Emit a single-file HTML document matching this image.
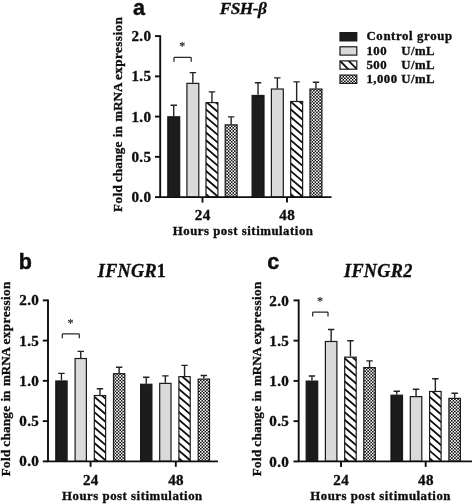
<!DOCTYPE html>
<html><head><meta charset="utf-8"><title>Figure</title>
<style>
html,body{margin:0;padding:0;background:#fff;}
body{width:472px;height:504px;overflow:hidden;}
svg{display:block;will-change:transform;}
text{font-family:"Liberation Serif",serif;font-weight:bold;fill:#111;stroke:#111;stroke-width:0.35px;}
.tk{font-size:14.5px;letter-spacing:0.3px;}
.lb{font-size:12.8px;letter-spacing:0.52px;}
.yl{font-size:13.1px;}
.lg{font-size:12.8px;letter-spacing:0.62px;}
.lg2{font-size:12.8px;letter-spacing:0.45px;}
.tt{font-size:17.3px;}
.as{font-size:13px;font-weight:normal;fill:#222;stroke:#222;stroke-width:0.2px;}
.pn{font-family:"Liberation Sans",sans-serif;font-size:21.5px;stroke:#111;stroke-width:0.45px;}
</style></head><body>
<svg width="472" height="504" viewBox="0 0 472 504">
<defs>
<filter id="soft" x="0" y="0" width="472" height="504" filterUnits="userSpaceOnUse"><feGaussianBlur stdDeviation="0.28"/></filter>
<pattern id="hatch" patternUnits="userSpaceOnUse" width="5.8" height="5.8" patternTransform="rotate(40)">
<rect width="5.8" height="5.8" fill="#fff"/><rect width="5.8" height="1.7" fill="#1a1a1a"/>
</pattern>
<pattern id="check" patternUnits="userSpaceOnUse" width="3.1" height="3.1">
<rect width="3.1" height="3.1" fill="#fff"/><rect width="1.55" height="1.55" fill="#111"/><rect x="1.55" y="1.55" width="1.55" height="1.55" fill="#111"/>
</pattern>
</defs>
<rect width="472" height="504" fill="#fff"/>
<g filter="url(#soft)">
<path d="M173.75 116.2V105.23M170.55 105.23H176.95" stroke="#222" stroke-width="1.4" fill="none"/>
<rect x="167.8" y="116.8" width="11.9" height="80.3" fill="#1a1a1a" stroke="#1a1a1a" stroke-width="1.2"/>
<path d="M192.85 82.79V72.62M189.65 72.62H196.05" stroke="#222" stroke-width="1.4" fill="none"/>
<rect x="186.9" y="83.39" width="11.9" height="113.71" fill="#dadada" stroke="#1a1a1a" stroke-width="1.2"/>
<path d="M211.95 102.03V91.86M208.75 91.86H215.15" stroke="#222" stroke-width="1.4" fill="none"/>
<clipPath id="c5"><rect x="206" y="102.63" width="11.9" height="94.47"/></clipPath>
<rect x="206" y="102.63" width="11.9" height="94.47" fill="#fff"/>
<path d="M205 193.24L218.9 205.19M205 185.54L218.9 197.49M205 177.84L218.9 189.79M205 170.14L218.9 182.09M205 162.44L218.9 174.39M205 154.74L218.9 166.69M205 147.04L218.9 158.99M205 139.34L218.9 151.29M205 131.64L218.9 143.59M205 123.94L218.9 135.89M205 116.24L218.9 128.19M205 108.54L218.9 120.49M205 100.84L218.9 112.79M205 93.14L218.9 105.09" stroke="#111" stroke-width="1.8" fill="none" clip-path="url(#c5)"/>
<rect x="206" y="102.63" width="11.9" height="94.47" fill="none" stroke="#1a1a1a" stroke-width="1.2"/>
<path d="M231.15 124.25V116.9M227.95 116.9H234.35" stroke="#222" stroke-width="1.4" fill="none"/>
<rect x="225.2" y="124.85" width="11.9" height="72.25" fill="url(#check)" stroke="#1a1a1a" stroke-width="1.2"/>
<path d="M258.05 94.86V82.69M254.85 82.69H261.25" stroke="#222" stroke-width="1.4" fill="none"/>
<rect x="252.1" y="95.46" width="11.9" height="101.64" fill="#1a1a1a" stroke="#1a1a1a" stroke-width="1.2"/>
<path d="M277.35 88.42V77.86M274.15 77.86H280.55" stroke="#222" stroke-width="1.4" fill="none"/>
<rect x="271.4" y="89.02" width="11.9" height="108.08" fill="#dadada" stroke="#1a1a1a" stroke-width="1.2"/>
<path d="M296.65 100.9V81.88M293.45 81.88H299.85" stroke="#222" stroke-width="1.4" fill="none"/>
<clipPath id="c16"><rect x="290.7" y="101.5" width="11.9" height="95.6"/></clipPath>
<rect x="290.7" y="101.5" width="11.9" height="95.6" fill="#fff"/>
<path d="M289.7 193.24L303.6 205.19M289.7 185.54L303.6 197.49M289.7 177.84L303.6 189.79M289.7 170.14L303.6 182.09M289.7 162.44L303.6 174.39M289.7 154.74L303.6 166.69M289.7 147.04L303.6 158.99M289.7 139.34L303.6 151.29M289.7 131.64L303.6 143.59M289.7 123.94L303.6 135.89M289.7 116.24L303.6 128.19M289.7 108.54L303.6 120.49M289.7 100.84L303.6 112.79M289.7 93.14L303.6 105.09" stroke="#111" stroke-width="1.8" fill="none" clip-path="url(#c16)"/>
<rect x="290.7" y="101.5" width="11.9" height="95.6" fill="none" stroke="#1a1a1a" stroke-width="1.2"/>
<path d="M315.95 88.42V82.28M312.75 82.28H319.15" stroke="#222" stroke-width="1.4" fill="none"/>
<rect x="310" y="89.02" width="11.9" height="108.08" fill="url(#check)" stroke="#1a1a1a" stroke-width="1.2"/>
<path d="M160.2 35.15V197.1H331.5" stroke="#111" stroke-width="1.9" fill="none"/>
<path d="M155 197.1H160.2" stroke="#111" stroke-width="1.9"/>
<text transform="translate(151.3 202.2) scale(1.04 1)" text-anchor="end" class="tk">0.0</text>
<path d="M155 156.85H160.2" stroke="#111" stroke-width="1.9"/>
<text transform="translate(151.3 161.95) scale(1.04 1)" text-anchor="end" class="tk">0.5</text>
<path d="M155 116.6H160.2" stroke="#111" stroke-width="1.9"/>
<text transform="translate(151.3 121.7) scale(1.04 1)" text-anchor="end" class="tk">1.0</text>
<path d="M155 76.35H160.2" stroke="#111" stroke-width="1.9"/>
<text transform="translate(151.3 81.45) scale(1.04 1)" text-anchor="end" class="tk">1.5</text>
<path d="M155 36.1H160.2" stroke="#111" stroke-width="1.9"/>
<text transform="translate(151.3 41.2) scale(1.04 1)" text-anchor="end" class="tk">2.0</text>
<path d="M202.5 197.1V202.6" stroke="#111" stroke-width="1.9"/>
<text transform="translate(202.7 220.3) scale(1.04 1)" text-anchor="middle" class="tk">24</text>
<path d="M287 197.1V202.6" stroke="#111" stroke-width="1.9"/>
<text transform="translate(287.2 220.3) scale(1.04 1)" text-anchor="middle" class="tk">48</text>
<text transform="translate(243.1 234.9) scale(1 1)" text-anchor="middle" class="lb">Hours post sitimulation</text>
<text transform="translate(122 211.9) rotate(-90)" class="yl" textLength="26.6" lengthAdjust="spacing">Fold</text>
<text transform="translate(122 182.3) rotate(-90)" class="yl" textLength="40.7" lengthAdjust="spacing">change</text>
<text transform="translate(122 137.2) rotate(-90)" class="yl" textLength="10.9" lengthAdjust="spacing">in</text>
<text transform="translate(122 121.7) rotate(-90)" class="yl" textLength="39.2" lengthAdjust="spacing">mRNA</text>
<text transform="translate(122 80) rotate(-90)" class="yl" textLength="62.8" lengthAdjust="spacing">expression</text>
<text transform="translate(243 14.1) scale(1 1)" text-anchor="middle" class="tt" style="letter-spacing:-0.5px;font-size:17.3px"><tspan font-style="italic">FSH-β</tspan></text>
<text transform="translate(133 15.2) scale(1 1)" text-anchor="start" class="pn">a</text>
<path d="M174 61.8V58.2Q174 57.4 174.8 57.4H190.4Q191.2 57.4 191.2 58.2V61.8" stroke="#2a2a2a" stroke-width="1.25" fill="none"/>
<text transform="translate(182.3 50.3) scale(0.92 1)" text-anchor="middle" class="as">*</text>
<path d="M61.45 380.37V373.42M58.25 373.42H64.65" stroke="#222" stroke-width="1.4" fill="none"/>
<rect x="55.8" y="380.97" width="11.3" height="80.38" fill="#1a1a1a" stroke="#1a1a1a" stroke-width="1.2"/>
<path d="M80.75 357.91V351.37M77.55 351.37H83.95" stroke="#222" stroke-width="1.4" fill="none"/>
<rect x="75.1" y="358.51" width="11.3" height="102.84" fill="#dadada" stroke="#1a1a1a" stroke-width="1.2"/>
<path d="M99.95 394.94V388.8M96.75 388.8H103.15" stroke="#222" stroke-width="1.4" fill="none"/>
<clipPath id="c52"><rect x="94.3" y="395.54" width="11.3" height="65.81"/></clipPath>
<rect x="94.3" y="395.54" width="11.3" height="65.81" fill="#fff"/>
<path d="M93.3 457.49L106.6 468.93M93.3 449.79L106.6 461.23M93.3 442.09L106.6 453.53M93.3 434.39L106.6 445.83M93.3 426.69L106.6 438.13M93.3 418.99L106.6 430.43M93.3 411.29L106.6 422.73M93.3 403.59L106.6 415.03M93.3 395.89L106.6 407.33M93.3 388.19L106.6 399.63" stroke="#111" stroke-width="1.8" fill="none" clip-path="url(#c52)"/>
<rect x="94.3" y="395.54" width="11.3" height="65.81" fill="none" stroke="#1a1a1a" stroke-width="1.2"/>
<path d="M119.15 373.12V367.18M115.95 367.18H122.35" stroke="#222" stroke-width="1.4" fill="none"/>
<rect x="113.5" y="373.72" width="11.3" height="87.63" fill="url(#check)" stroke="#1a1a1a" stroke-width="1.2"/>
<path d="M146.25 383.67V377.21M143.05 377.21H149.45" stroke="#222" stroke-width="1.4" fill="none"/>
<rect x="140.6" y="384.27" width="11.3" height="77.08" fill="#1a1a1a" stroke="#1a1a1a" stroke-width="1.2"/>
<path d="M165.35 382.78V375.84M162.15 375.84H168.55" stroke="#222" stroke-width="1.4" fill="none"/>
<rect x="159.7" y="383.38" width="11.3" height="77.97" fill="#dadada" stroke="#1a1a1a" stroke-width="1.2"/>
<path d="M184.55 376.02V365.37M181.35 365.37H187.75" stroke="#222" stroke-width="1.4" fill="none"/>
<clipPath id="c63"><rect x="178.9" y="376.62" width="11.3" height="84.73"/></clipPath>
<rect x="178.9" y="376.62" width="11.3" height="84.73" fill="#fff"/>
<path d="M177.9 457.49L191.2 468.93M177.9 449.79L191.2 461.23M177.9 442.09L191.2 453.53M177.9 434.39L191.2 445.83M177.9 426.69L191.2 438.13M177.9 418.99L191.2 430.43M177.9 411.29L191.2 422.73M177.9 403.59L191.2 415.03M177.9 395.89L191.2 407.33M177.9 388.19L191.2 399.63M177.9 380.49L191.2 391.93M177.9 372.79L191.2 384.23M177.9 365.09L191.2 376.53" stroke="#111" stroke-width="1.8" fill="none" clip-path="url(#c63)"/>
<rect x="178.9" y="376.62" width="11.3" height="84.73" fill="none" stroke="#1a1a1a" stroke-width="1.2"/>
<path d="M203.85 378.52V375.52M200.65 375.52H207.05" stroke="#222" stroke-width="1.4" fill="none"/>
<rect x="198.2" y="379.12" width="11.3" height="82.23" fill="url(#check)" stroke="#1a1a1a" stroke-width="1.2"/>
<path d="M48 299.4V461.35H218" stroke="#111" stroke-width="1.9" fill="none"/>
<path d="M42.8 461.35H48" stroke="#111" stroke-width="1.9"/>
<text transform="translate(39.1 466.45) scale(1.04 1)" text-anchor="end" class="tk">0.0</text>
<path d="M42.8 421.1H48" stroke="#111" stroke-width="1.9"/>
<text transform="translate(39.1 426.2) scale(1.04 1)" text-anchor="end" class="tk">0.5</text>
<path d="M42.8 380.85H48" stroke="#111" stroke-width="1.9"/>
<text transform="translate(39.1 385.95) scale(1.04 1)" text-anchor="end" class="tk">1.0</text>
<path d="M42.8 340.6H48" stroke="#111" stroke-width="1.9"/>
<text transform="translate(39.1 345.7) scale(1.04 1)" text-anchor="end" class="tk">1.5</text>
<path d="M42.8 300.35H48" stroke="#111" stroke-width="1.9"/>
<text transform="translate(39.1 305.45) scale(1.04 1)" text-anchor="end" class="tk">2.0</text>
<path d="M90.6 461.35V466.85" stroke="#111" stroke-width="1.9"/>
<text transform="translate(90.8 484.55) scale(1.04 1)" text-anchor="middle" class="tk">24</text>
<path d="M175.8 461.35V466.85" stroke="#111" stroke-width="1.9"/>
<text transform="translate(176 484.55) scale(1.04 1)" text-anchor="middle" class="tk">48</text>
<text transform="translate(132.4 500.05) scale(1 1)" text-anchor="middle" class="lb">Hours post sitimulation</text>
<text transform="translate(10.2 476.3) rotate(-90)" class="yl" textLength="26.6" lengthAdjust="spacing">Fold</text>
<text transform="translate(10.2 446.7) rotate(-90)" class="yl" textLength="40.7" lengthAdjust="spacing">change</text>
<text transform="translate(10.2 401.6) rotate(-90)" class="yl" textLength="10.9" lengthAdjust="spacing">in</text>
<text transform="translate(10.2 386.1) rotate(-90)" class="yl" textLength="39.2" lengthAdjust="spacing">mRNA</text>
<text transform="translate(10.2 344.4) rotate(-90)" class="yl" textLength="62.8" lengthAdjust="spacing">expression</text>
<text transform="translate(132 276.5) scale(1 1)" text-anchor="middle" class="tt" style="letter-spacing:0.3px;font-size:18.2px"><tspan font-style="italic">IFNGR</tspan>1</text>
<text transform="translate(18.7 268.7) scale(1 1)" text-anchor="start" class="pn">b</text>
<path d="M62.3 338.3V334.7Q62.3 333.9 63.1 333.9H78.5Q79.3 333.9 79.3 334.7V338.3" stroke="#2a2a2a" stroke-width="1.25" fill="none"/>
<text transform="translate(70.5 326.8) scale(0.92 1)" text-anchor="middle" class="as">*</text>
<path d="M311.95 380.5V375.97M308.75 375.97H315.15" stroke="#222" stroke-width="1.4" fill="none"/>
<rect x="306.2" y="381.1" width="11.5" height="80.3" fill="#1a1a1a" stroke="#1a1a1a" stroke-width="1.2"/>
<path d="M331.15 340.89V329.52M327.95 329.52H334.35" stroke="#222" stroke-width="1.4" fill="none"/>
<rect x="325.4" y="341.49" width="11.5" height="119.91" fill="#dadada" stroke="#1a1a1a" stroke-width="1.2"/>
<path d="M350.45 356.59V340.79M347.25 340.79H353.65" stroke="#222" stroke-width="1.4" fill="none"/>
<clipPath id="c99"><rect x="344.7" y="357.19" width="11.5" height="104.21"/></clipPath>
<rect x="344.7" y="357.19" width="11.5" height="104.21" fill="#fff"/>
<path d="M343.7 457.54L357.2 469.15M343.7 449.84L357.2 461.45M343.7 442.14L357.2 453.75M343.7 434.44L357.2 446.05M343.7 426.74L357.2 438.35M343.7 419.04L357.2 430.65M343.7 411.34L357.2 422.95M343.7 403.64L357.2 415.25M343.7 395.94L357.2 407.55M343.7 388.24L357.2 399.85M343.7 380.54L357.2 392.15M343.7 372.84L357.2 384.45M343.7 365.14L357.2 376.75M343.7 357.44L357.2 369.05M343.7 349.74L357.2 361.35" stroke="#111" stroke-width="1.8" fill="none" clip-path="url(#c99)"/>
<rect x="344.7" y="357.19" width="11.5" height="104.21" fill="none" stroke="#1a1a1a" stroke-width="1.2"/>
<path d="M369.55 367.05V360.91M366.35 360.91H372.75" stroke="#222" stroke-width="1.4" fill="none"/>
<rect x="363.8" y="367.65" width="11.5" height="93.75" fill="url(#check)" stroke="#1a1a1a" stroke-width="1.2"/>
<path d="M396.75 394.58V391.26M393.55 391.26H399.95" stroke="#222" stroke-width="1.4" fill="none"/>
<rect x="391" y="395.19" width="11.5" height="66.22" fill="#1a1a1a" stroke="#1a1a1a" stroke-width="1.2"/>
<path d="M416.05 396.03V389.29M412.85 389.29H419.25" stroke="#222" stroke-width="1.4" fill="none"/>
<rect x="410.3" y="396.63" width="11.5" height="64.77" fill="#dadada" stroke="#1a1a1a" stroke-width="1.2"/>
<path d="M435.35 390.88V378.78M432.15 378.78H438.55" stroke="#222" stroke-width="1.4" fill="none"/>
<clipPath id="c110"><rect x="429.6" y="391.48" width="11.5" height="69.92"/></clipPath>
<rect x="429.6" y="391.48" width="11.5" height="69.92" fill="#fff"/>
<path d="M428.6 457.54L442.1 469.15M428.6 449.84L442.1 461.45M428.6 442.14L442.1 453.75M428.6 434.44L442.1 446.05M428.6 426.74L442.1 438.35M428.6 419.04L442.1 430.65M428.6 411.34L442.1 422.95M428.6 403.64L442.1 415.25M428.6 395.94L442.1 407.55M428.6 388.24L442.1 399.85M428.6 380.54L442.1 392.15" stroke="#111" stroke-width="1.8" fill="none" clip-path="url(#c110)"/>
<rect x="429.6" y="391.48" width="11.5" height="69.92" fill="none" stroke="#1a1a1a" stroke-width="1.2"/>
<path d="M454.65 397.8V393.27M451.45 393.27H457.85" stroke="#222" stroke-width="1.4" fill="none"/>
<rect x="448.9" y="398.4" width="11.5" height="63" fill="url(#check)" stroke="#1a1a1a" stroke-width="1.2"/>
<path d="M298.7 299.45V461.4H472" stroke="#111" stroke-width="1.9" fill="none"/>
<path d="M293.5 461.4H298.7" stroke="#111" stroke-width="1.9"/>
<text transform="translate(289.1 466.5) scale(1.04 1)" text-anchor="end" class="tk">0.0</text>
<path d="M293.5 421.15H298.7" stroke="#111" stroke-width="1.9"/>
<text transform="translate(289.1 426.25) scale(1.04 1)" text-anchor="end" class="tk">0.5</text>
<path d="M293.5 380.9H298.7" stroke="#111" stroke-width="1.9"/>
<text transform="translate(289.1 386) scale(1.04 1)" text-anchor="end" class="tk">1.0</text>
<path d="M293.5 340.65H298.7" stroke="#111" stroke-width="1.9"/>
<text transform="translate(289.1 345.75) scale(1.04 1)" text-anchor="end" class="tk">1.5</text>
<path d="M293.5 300.4H298.7" stroke="#111" stroke-width="1.9"/>
<text transform="translate(289.1 305.5) scale(1.04 1)" text-anchor="end" class="tk">2.0</text>
<path d="M341 461.4V466.9" stroke="#111" stroke-width="1.9"/>
<text transform="translate(341.2 484.6) scale(1.04 1)" text-anchor="middle" class="tk">24</text>
<path d="M425.7 461.4V466.9" stroke="#111" stroke-width="1.9"/>
<text transform="translate(425.9 484.6) scale(1.04 1)" text-anchor="middle" class="tk">48</text>
<text transform="translate(380.6 500.1) scale(1 1)" text-anchor="middle" class="lb">Hours post sitimulation</text>
<text transform="translate(261 476.3) rotate(-90)" class="yl" textLength="26.6" lengthAdjust="spacing">Fold</text>
<text transform="translate(261 446.7) rotate(-90)" class="yl" textLength="40.7" lengthAdjust="spacing">change</text>
<text transform="translate(261 401.6) rotate(-90)" class="yl" textLength="10.9" lengthAdjust="spacing">in</text>
<text transform="translate(261 386.1) rotate(-90)" class="yl" textLength="39.2" lengthAdjust="spacing">mRNA</text>
<text transform="translate(261 344.4) rotate(-90)" class="yl" textLength="62.8" lengthAdjust="spacing">expression</text>
<text transform="translate(378.3 276.5) scale(1 1)" text-anchor="middle" class="tt" style="letter-spacing:0.3px;font-size:18.2px"><tspan font-style="italic">IFNGR2</tspan></text>
<text transform="translate(267.2 268.7) scale(1 1)" text-anchor="start" class="pn">c</text>
<path d="M312.7 316.4V312.8Q312.7 312 313.5 312H327.2Q328 312 328 312.8V316.4" stroke="#2a2a2a" stroke-width="1.25" fill="none"/>
<text transform="translate(320.05 304.9) scale(0.92 1)" text-anchor="middle" class="as">*</text>
<rect x="340" y="32.6" width="16.8" height="8.3" fill="#1a1a1a" stroke="#1a1a1a" stroke-width="1.2"/>
<text transform="translate(366.5 40.4) scale(1 1)" text-anchor="start" class="lg">Control group</text>
<rect x="340" y="46.8" width="16.8" height="8.3" fill="#dadada" stroke="#1a1a1a" stroke-width="1.2"/>
<text transform="translate(366.5 54.6) scale(1 1)" text-anchor="start" class="lg2">100</text>
<text transform="translate(401.3 54.6) scale(1 1)" text-anchor="start" class="lg2">U/mL</text>
<clipPath id="lgc"><rect x="340" y="60.9" width="16.8" height="8.3"/></clipPath>
<path d="M338.4 59.3l12 12M347.1 59.3l12 12M329.7 59.3l12 12" stroke="#111" stroke-width="1.8" fill="none" clip-path="url(#lgc)"/>
<rect x="340" y="60.9" width="16.8" height="8.3" fill="none" stroke="#1a1a1a" stroke-width="1.2"/>
<text transform="translate(366.5 68.7) scale(1 1)" text-anchor="start" class="lg2">500</text>
<text transform="translate(401.3 68.7) scale(1 1)" text-anchor="start" class="lg2">U/mL</text>
<rect x="340" y="75.1" width="16.8" height="8.3" fill="url(#check)" stroke="#1a1a1a" stroke-width="1.2"/>
<text transform="translate(366.5 82.9) scale(1 1)" text-anchor="start" class="lg2">1,000</text>
<text transform="translate(401.3 82.9) scale(1 1)" text-anchor="start" class="lg2">U/mL</text>
</g>
</svg>
</body></html>
